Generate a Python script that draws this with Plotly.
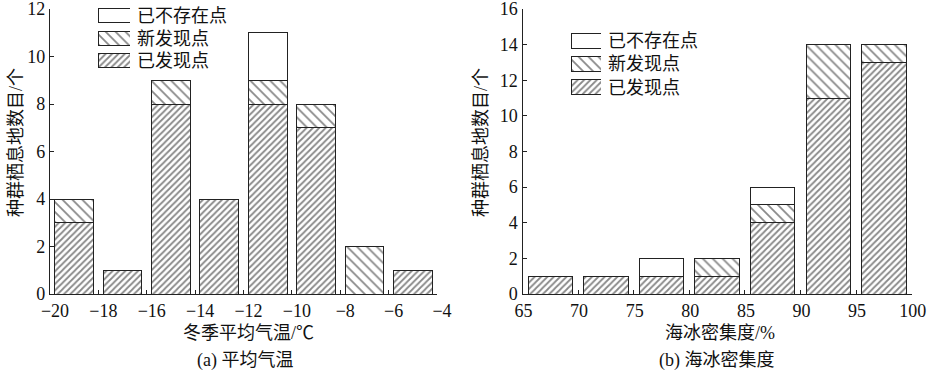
import plotly.graph_objects as go

# ---- data ----
series_names = ["已发现点", "新发现点", "已不存在点"]

temp_centers = [-19, -17, -15, -13, -11, -9, -7, -5]
temp_found = [3, 1, 8, 4, 8, 7, 0, 1]
temp_new = [1, 0, 1, 0, 1, 1, 2, 0]
temp_gone = [0, 0, 0, 0, 2, 0, 0, 0]

ice_centers = [67.5, 72.5, 77.5, 82.5, 87.5, 92.5, 97.5]
ice_found = [1, 1, 1, 1, 4, 11, 13]
ice_new = [0, 0, 0, 1, 1, 3, 1]
ice_gone = [0, 0, 1, 0, 1, 0, 0]

W, H = 930, 375
FONT = "Liberation Serif, Noto Sans CJK SC"
INK = "#222222"
HATCH = "#111111"
TXT = "#111111"

patterns = [dict(shape="/", size=4.5, solidity=0.4, fgcolor=HATCH, bgcolor="white"),
            dict(shape="\\", size=7, solidity=0.25, fgcolor=HATCH, bgcolor="white"),
            dict(shape="", fgcolor=HATCH, bgcolor="white")]


def nz(v):
    return [x if x else None for x in v]


def px_x(p):
    return p / W


def px_y(p):
    return 1 - p / H


fig = go.Figure()
for col, (xs, sets) in enumerate([
        (temp_centers, [temp_found, temp_new, temp_gone]),
        (ice_centers, [ice_found, ice_new, ice_gone])]):
    xa = "x" if col == 0 else "x2"
    ya = "y" if col == 0 else "y2"
    for name, vals, pat in zip(series_names, sets, patterns):
        fig.add_trace(go.Bar(
            x=xs, y=nz(vals), name=name, xaxis=xa, yaxis=ya, showlegend=False,
            marker=dict(color="white", line=dict(color=INK, width=1), pattern=pat),
            hoverinfo="x+y+name"))

# legend keys drawn as small bars on their own axes (patterned swatches)
for xa, ya, w in [("x3", "y3", 0.62), ("x4", "y4", 0.66)]:
    for name, pat in zip(series_names, patterns):
        fig.add_trace(go.Bar(
            y=[name], x=[1], orientation="h", width=w, xaxis=xa, yaxis=ya,
            showlegend=False, hoverinfo="skip",
            marker=dict(color="white", line=dict(color=INK, width=1), pattern=pat)))

axis_common = dict(showline=True, linecolor=INK, linewidth=1.3, ticks="inside",
                   ticklen=4, tickwidth=1, tickcolor=INK, showgrid=False,
                   zeroline=False, automargin=False, ticklabeloverflow="allow",
                   tickfont=dict(family=FONT, size=18, color=TXT))

ydom = [px_y(294), px_y(9)]
leg_y = dict(type="category", categoryarray=series_names, categoryorder="array",
             side="right", showline=False, ticks="", showgrid=False, zeroline=False,
             automargin=False, ticklabelstandoff=6, fixedrange=True,
             tickfont=dict(family=FONT, size=18, color=TXT))
leg_x = dict(visible=False, range=[0, 1], fixedrange=True, automargin=False)

fig.update_layout(
    width=W, height=H, plot_bgcolor="white", paper_bgcolor="white",
    margin=dict(l=0, r=0, t=0, b=0),
    barmode="stack", bargap=0.2, showlegend=False,
    font=dict(family=FONT, size=18, color=TXT),
    xaxis=dict(domain=[px_x(50), px_x(437)], range=[-20, -4], dtick=2, anchor="y",
               ticklabelshift=5, **axis_common),
    yaxis=dict(domain=ydom, range=[0, 12], dtick=2, anchor="x", **axis_common),
    xaxis2=dict(domain=[px_x(522.5), px_x(911.7)], range=[65, 100], dtick=5, anchor="y2",
                ticklabelshift=1, **axis_common),
    yaxis2=dict(domain=ydom, range=[0, 16], dtick=2, anchor="x2", **axis_common),
    xaxis3=dict(domain=[px_x(98), px_x(130)], anchor="y3", **leg_x),
    yaxis3=dict(domain=[px_y(72.3), px_y(4.3)], anchor="x3", **leg_y),
    xaxis4=dict(domain=[px_x(571), px_x(601)], anchor="y4", **leg_x),
    yaxis4=dict(domain=[px_y(98.9), px_y(29.4)], anchor="x4", **leg_y),
)

ann = [
    ("冬季平均气温/℃", 248, 333, 0),
    ("(a) 平均气温", 245, 360, 0),
    ("海冰密集度/%", 720, 333, 0),
    ("(b) 海冰密集度", 717, 360, 0),
    ("种群栖息地数目/个", 16, 143, -90),
    ("种群栖息地数目/个", 481, 143, -90),
]
for text, x, y, ang in ann:
    fig.add_annotation(text=text, xref="paper", yref="paper", x=px_x(x), y=px_y(y),
                       xanchor="center", yanchor="middle", showarrow=False, textangle=ang,
                       font=dict(family=FONT, size=18, color=TXT))

fig.write_html("out.html", config={"displayModeBar": False},
               post_script="document.body.style.margin='0';document.body.style.overflow='hidden';")
